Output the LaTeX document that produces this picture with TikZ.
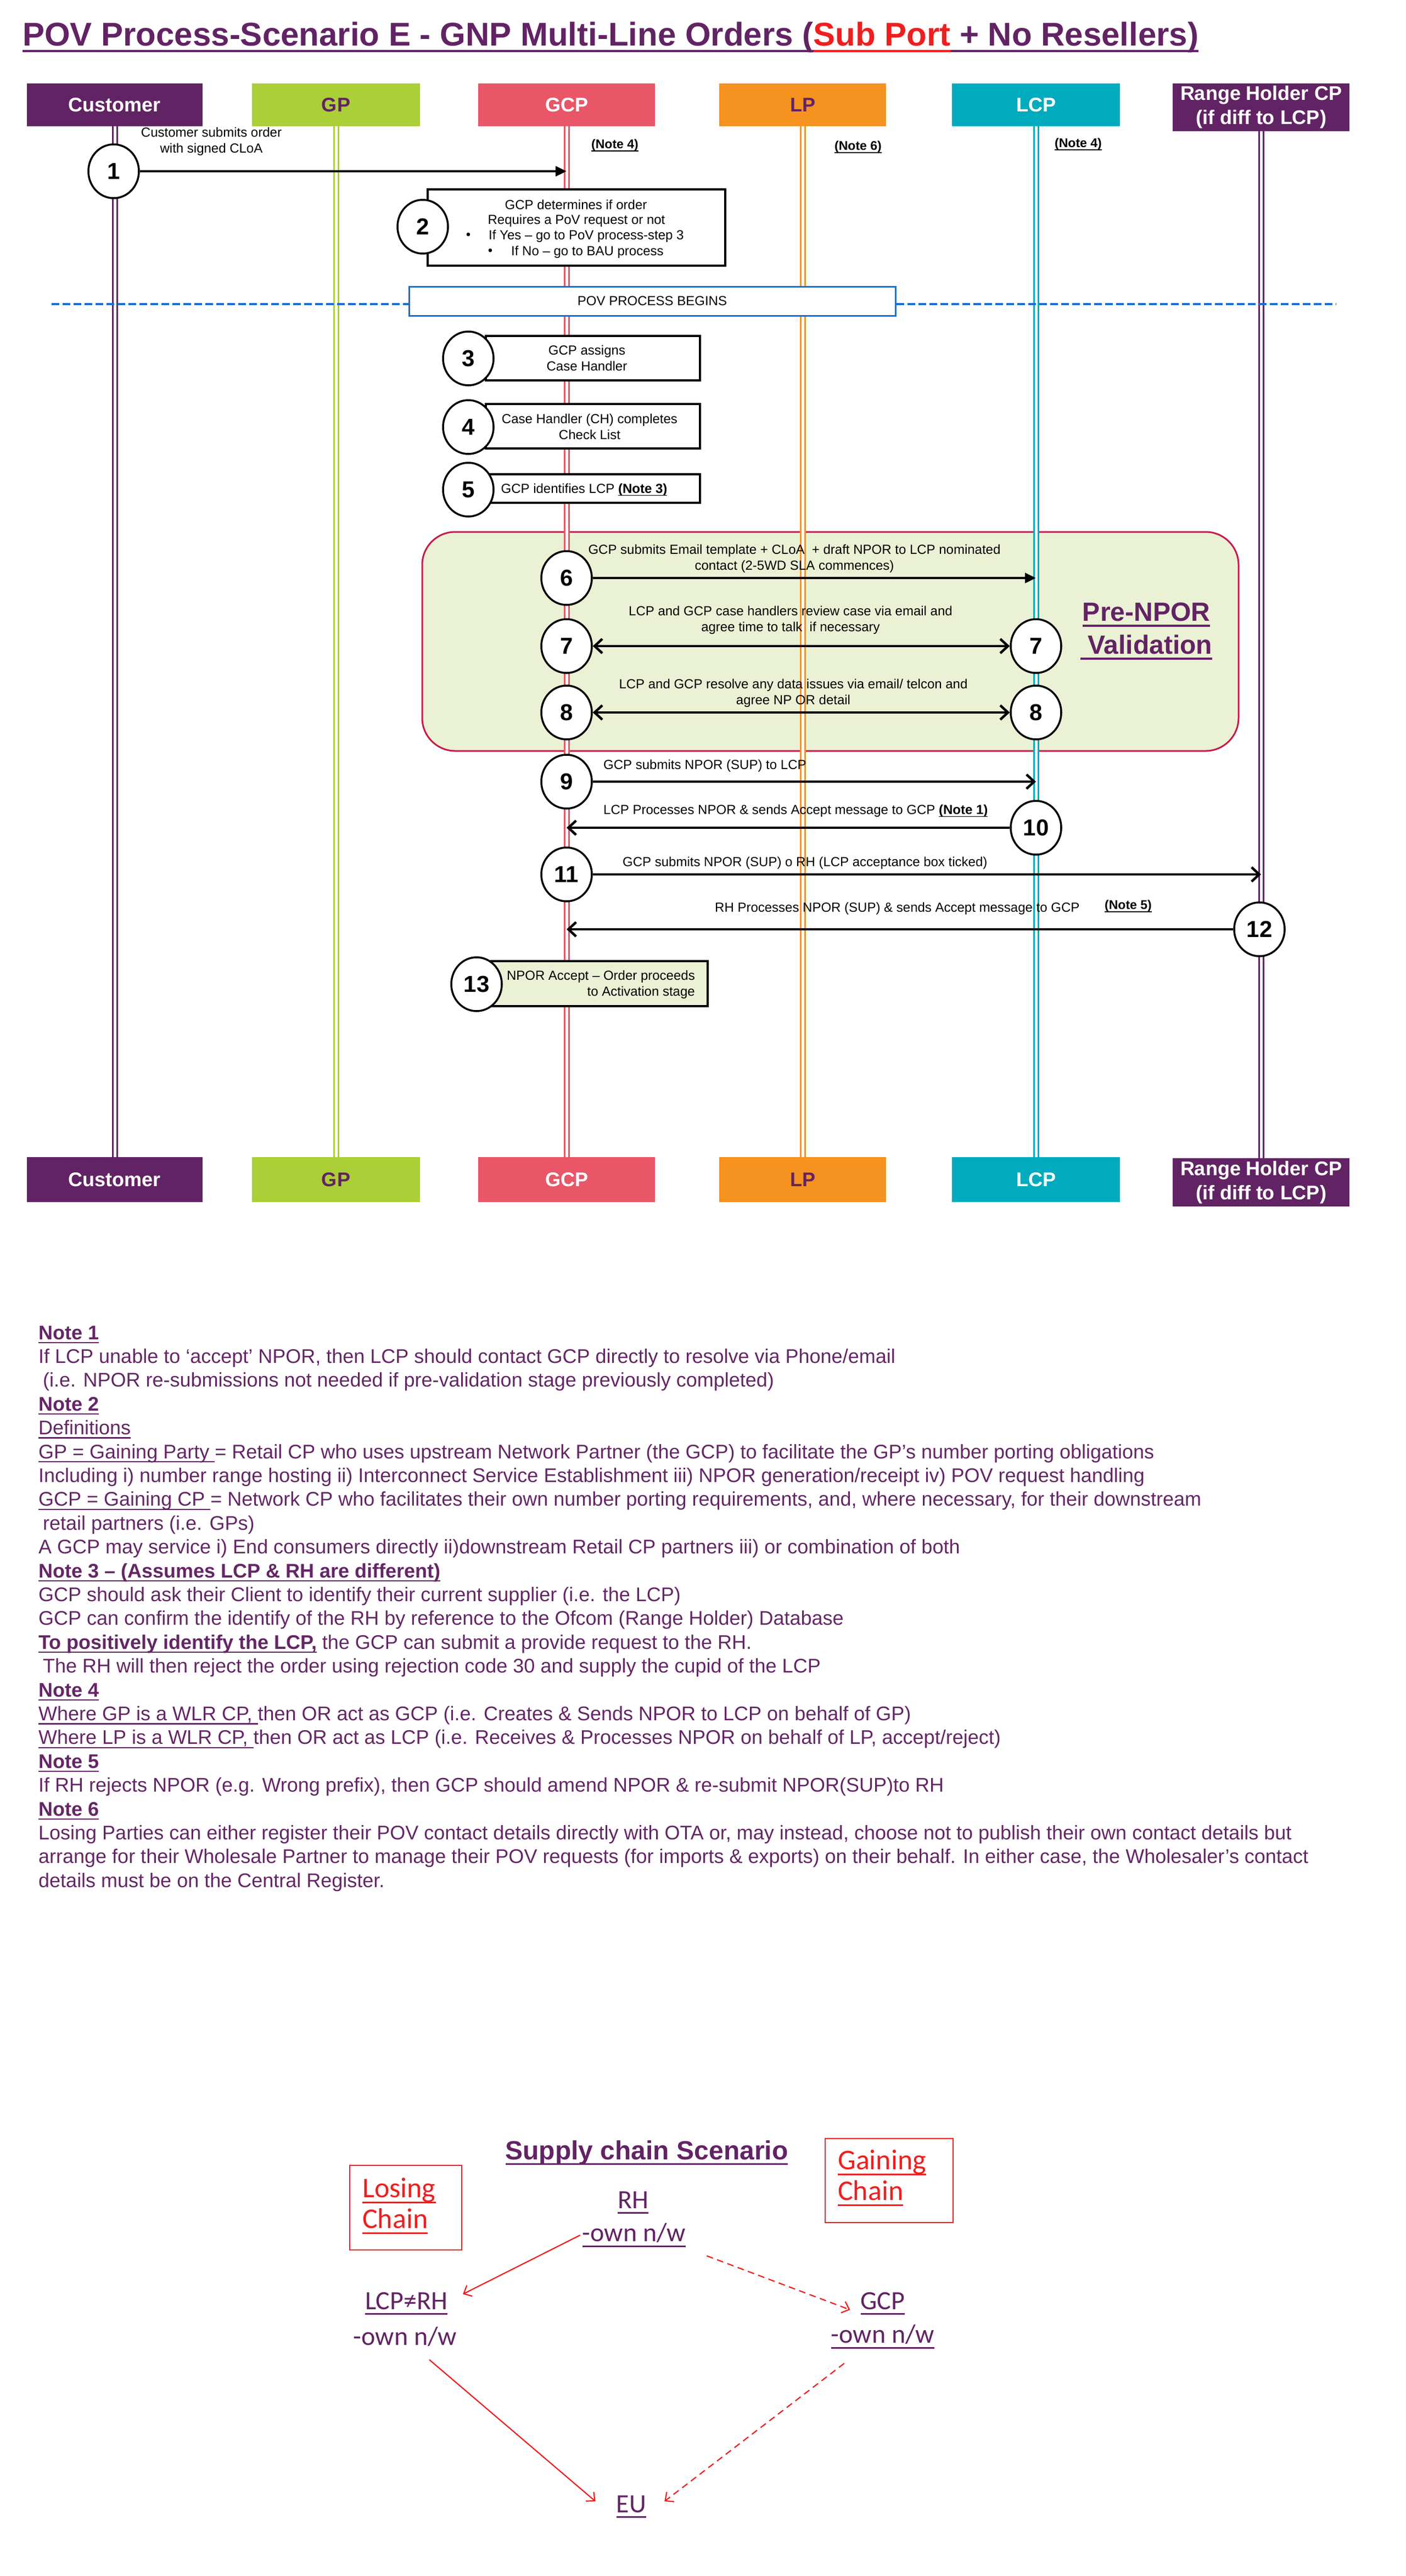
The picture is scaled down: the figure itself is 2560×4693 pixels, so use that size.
\documentclass[tikz,border=0pt]{standalone}
\usepackage{fontspec}
\setmainfont{Liberation Sans}
\newfontfamily\calib{Carlito}
\usetikzlibrary{arrows.meta,shapes.geometric,calc}
\definecolor{cPurple}{RGB}{98,35,100}
\definecolor{cGreen}{RGB}{170,207,55}
\definecolor{cPink}{RGB}{232,86,104}
\definecolor{cOrange}{RGB}{245,146,32}
\definecolor{cTeal}{RGB}{0,171,190}
\definecolor{cBlue}{RGB}{30,110,200}
\definecolor{cCrimson}{RGB}{200,25,75}
\definecolor{cPale}{RGB}{235,241,212}
\definecolor{cNote}{RGB}{100,38,102}
\definecolor{cRed}{RGB}{240,30,30}
\newcommand{\ulth}{1.5pt}
\newcommand{\myul}[1]{\leavevmode\setbox0=\hbox{#1}\rlap{\rule[-0.2em]{\wd0}{\ulth}}\box0\relax}
\newcommand{\hdrfont}{\fontsize{36}{44}\selectfont\bfseries}
\newcommand{\numfont}{\fontsize{42}{42}\selectfont\bfseries}
\newcommand{\fsS}{\fontsize{24}{29}\selectfont\def\ulth{1.5pt}}
\newcommand{\fsN}{\fontsize{23}{28}\selectfont\bfseries\def\ulth{1.5pt}}
\newcommand{\fsNote}{\fontsize{36}{43}\selectfont\def\ulth{2.5pt}}
\newcommand{\fsSC}{\calib\fontsize{48}{56}\selectfont\def\ulth{3pt}}
\newcommand{\fsChain}{\calib\fontsize{52}{56}\selectfont\def\ulth{3pt}}
\tikzset{
 hdr/.style={minimum height=78pt, inner sep=0pt, align=center, font=\hdrfont},
 life/.style={line width=3pt, double=white, double distance=5pt},
 stepc/.style={ellipse, draw=black, line width=3.5pt, fill=white, minimum width=92pt, minimum height=98pt, inner sep=0pt, font=\numfont},
 stepbox/.style={draw=black, line width=3.5pt, fill=white, inner sep=0pt},
 steptext/.style={font=\fsS, align=center, inner sep=0pt},
 notelbl/.style={font=\fsN, inner sep=0pt},
 filledarr/.style={line width=4.5pt, -{Triangle[length=20pt,width=18pt]}},
 openarr/.style={line width=4.5pt, -{Straight Barb[length=14pt,width=26pt]}},
 bothopen/.style={line width=4.5pt, {Straight Barb[length=14pt,width=26pt]}-{Straight Barb[length=14pt,width=26pt]}},
 notes/.style={font=\fsNote, text=cNote, inner sep=0pt, anchor=base west},
 sc/.style={font=\fsSC, text=cPurple, inner sep=0pt},
 redarr/.style={draw=cRed, line width=2.2pt, -{Straight Barb[length=12pt,width=22pt]}},
}
\begin{document}
\begin{tikzpicture}[x=1pt,y=-1pt]
\useasboundingbox (0,0) rectangle (2560,4693);
\fill[white] (0,0) rectangle (2560,4693);

% title
\node[anchor=base west, inner sep=0pt, font=\fontsize{60}{70}\selectfont\bfseries\def\ulth{4pt}, text=cPurple] (title) at (41,83)
 {\myul{POV Process-Scenario E - GNP Multi-Line Orders (}\textcolor{cRed}{\myul{Sub Port}}\myul{ + No Resellers)}};

% pre-NPOR region
\node[draw=cCrimson, line width=3pt, fill=cPale, rounded corners=60pt, minimum width=1487pt, minimum height=399pt, inner sep=0pt] (pre) at (1512.5,1168.5) {};

% headers
\node[hdr, fill=cPurple, text=white, minimum width=320pt] (hCust) at (209,191) {Customer};
\node[hdr, fill=cGreen, text=cPurple, minimum width=306pt] (hGP) at (612,191) {GP};
\node[hdr, fill=cPink, text=white, minimum width=322pt] (hGCP) at (1032,191) {GCP};
\node[hdr, fill=cOrange, text=cPurple, minimum width=304pt] (hLP) at (1462,191) {LP};
\node[hdr, fill=cTeal, text=white, minimum width=306pt] (hLCP) at (1887,191) {LCP};
\node[hdr, fill=cPurple, text=white, minimum width=322pt, minimum height=87pt] (hRH) at (2297,195.5) {Range Holder CP\\(if diff to LCP)};

\node[hdr, fill=cPurple, text=white, minimum width=320pt, minimum height=82pt] (fCust) at (209,2149) {Customer};
\node[hdr, fill=cGreen, text=cPurple, minimum width=306pt, minimum height=82pt] (fGP) at (612,2149) {GP};
\node[hdr, fill=cPink, text=white, minimum width=322pt, minimum height=82pt] (fGCP) at (1032,2149) {GCP};
\node[hdr, fill=cOrange, text=cPurple, minimum width=304pt, minimum height=82pt] (fLP) at (1462,2149) {LP};
\node[hdr, fill=cTeal, text=white, minimum width=306pt, minimum height=82pt] (fLCP) at (1887,2149) {LCP};
\node[hdr, fill=cPurple, text=white, minimum width=322pt, minimum height=88pt] (fRH) at (2297,2154) {Range Holder CP\\(if diff to LCP)};

% lifelines
\draw[life, draw=cPurple] (hCust.south) -- (fCust.north);
\draw[life, draw=cGreen] (hGP.south) -- (fGP.north);
\draw[life, draw=cPink] (hGCP.south) -- (fGCP.north);
\draw[life, draw=cOrange] (hLP.south) -- (fLP.north);
\draw[life, draw=cTeal] (hLCP.south) -- (fLCP.north);
\draw[life, draw=cPurple] (hRH.south) -- (fRH.north);

% step 1
\node[stepc] (c1) at (207,312) {1};
\node[steptext] (t1) at (385,257.5) {Customer submits order\\with signed CLoA};
\draw[filledarr] (c1.east) -- (c1.east -| hGCP);
\node[notelbl] (n4a) at (1120,265) {\myul{(Note 4)}};
\node[notelbl] (n6a) at (1563,268) {\myul{(Note 6)}};
\node[notelbl] (n4b) at (1964,263) {\myul{(Note 4)}};

% step 2
\node[stepbox, minimum width=542pt, minimum height=139pt] (b2) at (1050,414.5) {};
\node[stepc] (c2) at (770,413) {2};
\node[steptext] (t2a) at (1049,373) {GCP determines if order};
\node[steptext] (t2b) at (1050,402) {Requires a PoV request or not};
\node[steptext] (t2cb) at (853,430) {•};
\node[steptext, anchor=west] (t2c) at (890,430) {If Yes – go to PoV process-step 3};
\node[steptext] (t2db) at (893,459) {•};
\node[steptext, anchor=west] (t2d) at (931,459) {If No – go to BAU process};

% POV process begins
\node[draw=cBlue, line width=3pt, fill=white, minimum width=886pt, minimum height=53pt, inner sep=0pt, font=\fsS] (pov) at (1188,548.5) {POV PROCESS BEGINS};
\coordinate (dL) at (94,554);
\coordinate (dR) at (2433,554);
\draw[cBlue, line width=3.5pt, dash pattern=on 14pt off 6pt] (dL) -- (dL -| pov.west);
\draw[cBlue, line width=3.5pt, dash pattern=on 14pt off 6pt] (dR -| pov.east) -- (dR);

% steps 3-5
\node[stepbox, minimum width=390pt, minimum height=81pt] (b3) at (1080,652.5) {};
\node[stepc] (c3) at (853,653) {3};
\node[steptext] (t3) at (1069,652.5) {GCP assigns\\Case Handler};
\node[stepbox, minimum width=390pt, minimum height=81pt] (b4) at (1080,776.5) {};
\node[stepc] (c4) at (853,778) {4};
\node[steptext] (t4) at (1074,777.5) {Case Handler (CH) completes\\Check List};
\node[stepbox, minimum width=390pt, minimum height=52pt] (b5) at (1080,890) {};
\node[stepc] (c5) at (853,892) {5};
\node[steptext] (t5) at (1064,892) {GCP identifies LCP \myul{\textbf{(Note 3)}}};

% steps 6-8
\node[stepc] (c6) at (1032,1053) {6};
\draw[filledarr] (c6.east) -- (c6.east -| hLCP);
\node[steptext] (t6) at (1447,1017.5) {GCP submits Email template + CLoA\ \ + draft NPOR to LCP nominated\\contact (2-5WD SLA commences)};
\node[stepc] (c7a) at (1032,1177) {7};
\node[stepc] (c7b) at (1887,1177) {7};
\draw[bothopen] (c7a.east) -- (c7b.west);
\node[steptext] (t7) at (1440,1130) {LCP and GCP case handlers review case via email and\\agree time to talk\ \ if necessary};
\node[stepc] (c8a) at (1032,1298) {8};
\node[stepc] (c8b) at (1887,1298) {8};
\draw[bothopen] (c8a.east) -- (c8b.west);
\node[steptext] (t8) at (1445,1262.5) {LCP and GCP resolve any data issues via email/ telcon and\\agree NP OR detail};
\node[inner sep=0pt, align=center, font=\fontsize{48}{60}\selectfont\bfseries\def\ulth{3.5pt}, text=cPurple] (prelbl) at (2088,1150) {\myul{Pre-NPOR}\\\myul{\ Validation}};

% steps 9-12
\node[stepc] (c9) at (1032,1424) {9};
\draw[openarr] (c9.east) -- (c9.east -| hLCP);
\node[steptext, anchor=west] (t9) at (1099,1395) {GCP submits NPOR (SUP) to LCP};
\node[stepc] (c10) at (1887,1508) {10};
\draw[openarr] (c10.west) -- (c10.west -| hGCP);
\node[steptext, anchor=west] (t10) at (1099,1477) {LCP Processes NPOR \& sends Accept message to GCP \myul{\textbf{(Note 1)}}};
\node[stepc] (c11) at (1032,1593) {11};
\draw[openarr] (c11.east) -- (c11.east -| hRH);
\node[steptext, anchor=west] (t11) at (1134,1572) {GCP submits NPOR (SUP) o RH (LCP acceptance box ticked)};
\node[stepc] (c12) at (2294,1693) {12};
\draw[openarr] (c12.west) -- (c12.west -| hGCP);
\node[steptext, anchor=west] (t12) at (1302,1655) {RH Processes NPOR (SUP) \& sends Accept message to GCP};
\node[notelbl] (n5a) at (2055,1651) {\myul{(Note 5)}};

% step 13
\node[stepbox, fill=cPale, minimum width=394pt, minimum height=82pt] (b13) at (1092,1792) {};
\node[stepc] (c13) at (868,1793) {13};
\node[steptext, align=right, anchor=east] (t13) at (1266,1794) {NPOR Accept – Order proceeds\\to Activation stage};

% notes
\node[notes] (m1) at (70,2440.0) {\textbf{\myul{Note 1}}};
\node[notes] (m2) at (70,2483.4) {If LCP unable to ‘accept’ NPOR, then LCP should contact GCP directly to resolve via Phone/email};
\node[notes] (m3) at (70,2526.8) {\hspace{8pt}(i.e. NPOR re-submissions not needed if pre-validation stage previously completed)};
\node[notes] (m4) at (70,2570.2) {\textbf{\myul{Note 2}}};
\node[notes] (m5) at (70,2613.6) {\myul{Definitions}};
\node[notes] (m6) at (70,2657.0) {\myul{GP = Gaining Party }= Retail CP who uses upstream Network Partner (the GCP) to facilitate the GP’s number porting obligations};
\node[notes] (m7) at (70,2700.4) {Including i) number range hosting ii) Interconnect Service Establishment iii) NPOR generation/receipt iv) POV request handling};
\node[notes] (m8) at (70,2743.8) {\myul{GCP = Gaining CP }= Network CP who facilitates their own number porting requirements, and, where necessary, for their downstream};
\node[notes] (m9) at (70,2787.2) {\hspace{8pt}retail partners (i.e. GPs)};
\node[notes] (m10) at (70,2830.6) {A GCP may service i) End consumers directly ii)downstream Retail CP partners iii) or combination of both};
\node[notes] (m11) at (70,2874.0) {\textbf{\myul{Note 3 – (Assumes LCP \& RH are different)}}};
\node[notes] (m12) at (70,2917.4) {GCP should ask their Client to identify their current supplier (i.e. the LCP)};
\node[notes] (m13) at (70,2960.8) {GCP can confirm the identify of the RH by reference to the Ofcom (Range Holder) Database};
\node[notes] (m14) at (70,3004.2) {\textbf{\myul{To positively identify the LCP,}} the GCP can submit a provide request to the RH.};
\node[notes] (m15) at (70,3047.6) {\hspace{8pt}The RH will then reject the order using rejection code 30 and supply the cupid of the LCP};
\node[notes] (m16) at (70,3091.0) {\textbf{\myul{Note 4}}};
\node[notes] (m17) at (70,3134.4) {\myul{Where GP is a WLR CP, }then OR act as GCP (i.e. Creates \& Sends NPOR to LCP on behalf of GP)};
\node[notes] (m18) at (70,3177.8) {\myul{Where LP is a WLR CP, }then OR act as LCP (i.e. Receives \& Processes NPOR on behalf of LP, accept/reject)};
\node[notes] (m19) at (70,3221.2) {\textbf{\myul{Note 5}}};
\node[notes] (m20) at (70,3264.6) {If RH rejects NPOR (e.g. Wrong prefix), then GCP should amend NPOR \& re-submit NPOR(SUP)to RH};
\node[notes] (m21) at (70,3308.0) {\textbf{\myul{Note 6}}};
\node[notes] (m22) at (70,3351.4) {Losing Parties can either register their POV contact details directly with OTA or, may instead, choose not to publish their own contact details but};
\node[notes] (m23) at (70,3394.8) {arrange for their Wholesale Partner to manage their POV requests (for imports \& exports) on their behalf. In either case, the Wholesaler’s contact};
\node[notes] (m24) at (70,3438.2) {details must be on the Central Register.};

% supply chain
\node[inner sep=0pt, font=\fontsize{48}{56}\selectfont\bfseries\def\ulth{3.5pt}, text=cPurple] (sctitle) at (1178,3922) {\myul{Supply chain Scenario}};
\node[draw=cRed, line width=2.5pt, minimum width=204pt, minimum height=154pt, inner sep=0pt] (losebox) at (739,4022) {};
\node[draw=cRed, line width=2.5pt, minimum width=233pt, minimum height=153pt, inner sep=0pt] (gainbox) at (1619.5,3972.5) {};
\node[inner sep=0pt, anchor=west, align=left, font=\fsChain, text=cRed] (losetxt) at (660,4018.5) {\myul{Losing}\\\myul{Chain}};
\node[inner sep=0pt, anchor=west, align=left, font=\fsChain, text=cRed] (gaintxt) at (1526,3967.5) {\myul{Gaining}\\\myul{Chain}};
\node[sc] (rh) at (1153,4013) {\myul{RH}};
\node[sc] (rhown) at (1155,4072) {\myul{-own n/w}};
\node[sc] (lcp) at (740,4197) {\myul{LCP≠RH}};
\node[sc] (lcpown) at (738,4257) {-own n/w};
\node[sc] (gcp) at (1608,4197) {\myul{GCP}};
\node[sc] (gcpown) at (1608,4257) {\myul{-own n/w}};
\node[sc] (eu) at (1150,4567) {\myul{EU}};
\draw[redarr] ($(rhown.west)+(-4,0)$) -- ($(lcp.north east)+(28,3)$);
\draw[redarr, dash pattern=on 12pt off 8pt] ($(rhown.south east)+(38,16)$) -- ($(gcp.west)+(-19,11)$);
\draw[redarr] ($(lcpown.south)+(44,24)$) -- ($(eu.west)+(-38,-10)$);
\draw[redarr, dash pattern=on 12pt off 8pt] ($(gcpown.south west)+(24,27)$) -- ($(eu.east)+(33,-10)$);
\end{tikzpicture}
\end{document}
